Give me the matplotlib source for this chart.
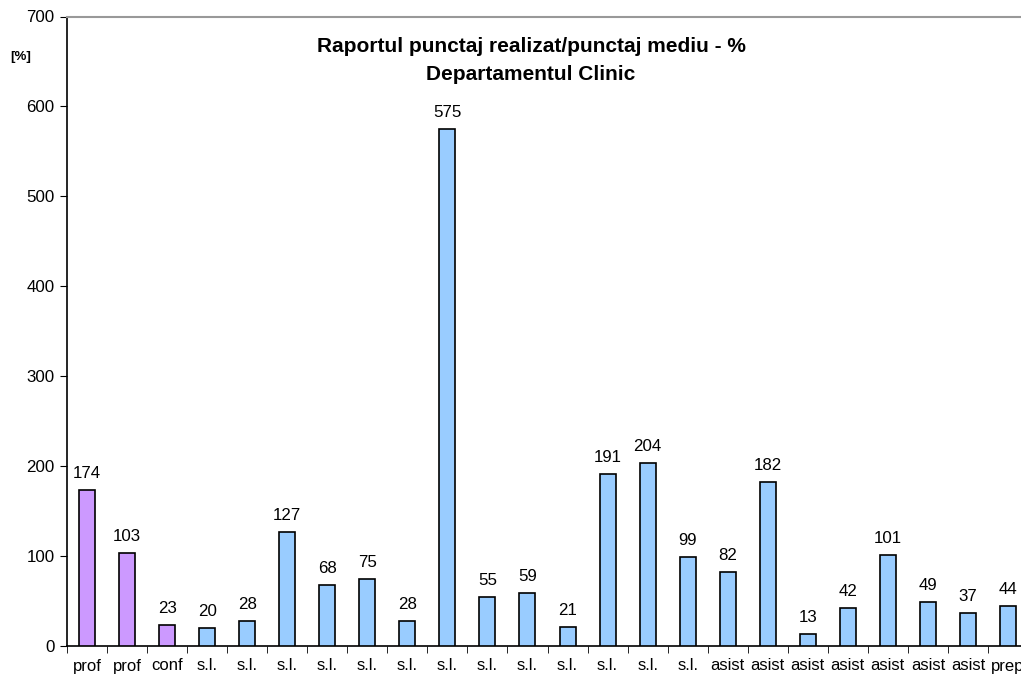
import matplotlib
matplotlib.use("Agg")
import matplotlib.pyplot as plt
import numpy as np

plt.rcParams['font.family'] = ['Liberation Sans', 'DejaVu Sans']

categories = ["prof", "prof", "conf",
              "s.l.", "s.l.", "s.l.", "s.l.", "s.l.", "s.l.", "s.l.",
              "s.l.", "s.l.", "s.l.", "s.l.", "s.l.", "s.l.",
              "asist", "asist", "asist", "asist", "asist", "asist", "asist",
              "prep"]
values = [174, 103, 23, 20, 28, 127, 68, 75, 28, 575, 55, 59, 21, 191, 204, 99,
          82, 182, 13, 42, 101, 49, 37, 44]
n_purple = 3

W, H = 1021, 681
fig = plt.figure(figsize=(W / 100, H / 100), dpi=100)
left, right, bottom, top = 67, 1028, 646, 16.5
ax = fig.add_axes([left / W, 1 - bottom / H, (right - left) / W, (bottom - top) / H])

n = len(values)
x = np.arange(n)
colors = ['#CC99FF' if i < n_purple else '#99CCFF' for i in range(n)]
ax.bar(x, values, width=0.4, color=colors, edgecolor='black', linewidth=1.2, zorder=3)

for xi, v in zip(x, values):
    ax.text(xi, v + 10, str(v), ha='center', va='bottom', fontsize=12.2)

ax.set_xlim(-0.5, n - 0.5)
ax.set_ylim(0, 700)
ax.set_yticks(range(0, 701, 100))
ax.set_xticks(x)
ax.set_xticklabels(categories, fontsize=12)
ax.tick_params(axis='x', length=0, pad=9)
ax.set_xticks(np.arange(-0.5, n, 1), minor=True)
ax.tick_params(axis='x', which='minor', length=5, direction='out', color='black')
ax.tick_params(axis='y', length=5, direction='out', labelsize=12.2, pad=4)

ax.spines['top'].set_color('#999999')
ax.spines['right'].set_visible(False)
ax.spines['left'].set_color('black')
ax.spines['bottom'].set_color('black')
ax.spines['left'].set_linewidth(1.2)
ax.spines['bottom'].set_linewidth(1.2)
ax.spines['top'].set_linewidth(1.5)

fig.text(531 / W, 1 - 47 / H, "Raportul punctaj realizat/punctaj mediu - %", ha='center', va='center',
         fontsize=15, fontweight='bold')
fig.text(531 / W, 1 - 74 / H, "Departamentul Clinic", ha='center', va='center',
         fontsize=15, fontweight='bold')
fig.text(21 / W, 1 - 57 / H, "[%]", ha='center', va='center', fontsize=9.5, fontweight='bold')

fig.savefig("out.png", dpi=100)
